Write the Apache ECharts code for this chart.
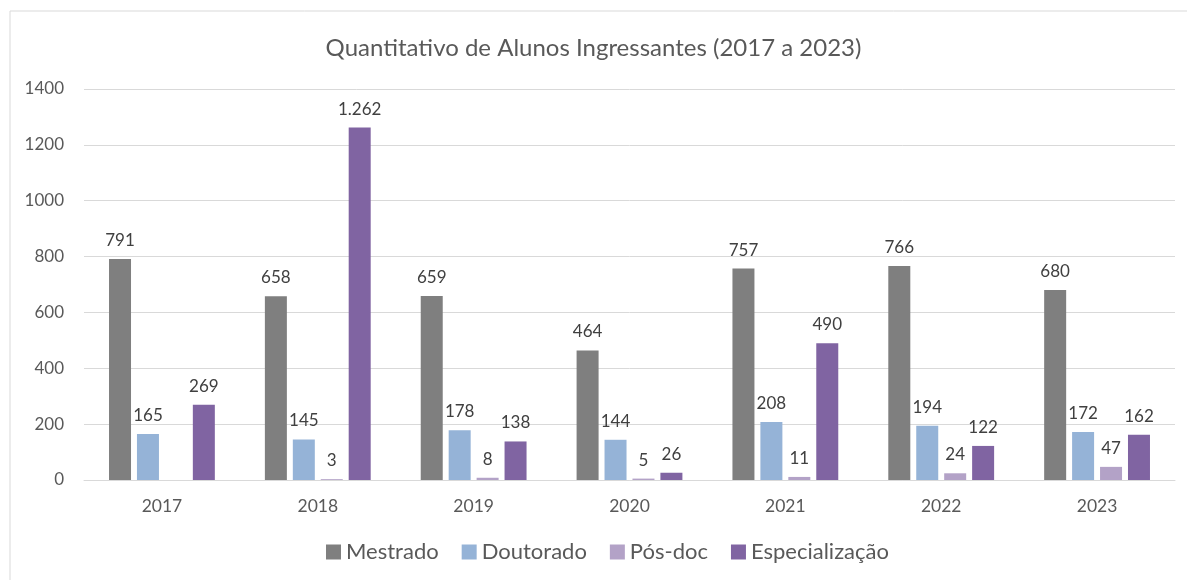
<!DOCTYPE html>
<html><head><meta charset="utf-8">
<script src="https://cdn.jsdelivr.net/npm/echarts@6/dist/echarts.min.js"></script>
<style>html,body{margin:0;padding:0;background:#fff}#c{width:1187px;height:580px}</style>
</head><body><div id="c"></div>
<script>
const categories = ['2017','2018','2019','2020','2021','2022','2023'];
const mestrado = [791, 658, 659, 464, 757, 766, 680];
const doutorado = [165, 145, 178, 144, 208, 194, 172];
const posdoc = ['-', 3, 8, 5, 11, 24, 47];
const especializacao = [269, 1262, 138, 26, 490, 122, 162];
const yTicks = [0, 200, 400, 600, 800, 1000, 1200, 1400];

const FONT = 'Lato, "Noto Sans", sans-serif';
const labelCfg = {
  show: true, position: 'top', distance: 10, color: '#404040', fontSize: 17, fontFamily: FONT,
  formatter: p => p.value >= 1000 ? (Math.floor(p.value/1000) + '.' + String(p.value%1000).padStart(3,'0')) : String(p.value)
};
function mk(name, data, color) {
  return { name, type: 'bar', data, barWidth: 22, barGap: '27%', itemStyle: { color }, label: labelCfg };
}
const chart = echarts.init(document.getElementById('c'));
chart.setOption({
  animation: false,
  backgroundColor: '#fff',
  title: { text: 'Quantitativo de Alunos Ingressantes (2017 a 2023)', left: 'center', top: 31,
    textStyle: { fontFamily: FONT, fontSize: 24, fontWeight: 'normal', color: '#595959' } },
  legend: { bottom: 12, left: 321, itemWidth: 15, itemHeight: 15, itemGap: 23, icon: 'rect',
    textStyle: { fontFamily: FONT, fontSize: 22, color: '#595959' },
    data: ['Mestrado','Doutorado','Pós-doc','Especialização'] },
  graphic: [{ type: 'rect', shape: { x: 10, y: 11, width: 1190, height: 600 }, style: { fill: 'none', stroke: '#d9d9d9', lineWidth: 1 }, silent: true }],
  grid: { left: 84, right: 12, top: 89, bottom: 100 },
  xAxis: { type: 'category', data: categories,
    axisLine: { lineStyle: { color: '#d9d9d9' } }, axisTick: { show: false },
    axisLabel: { fontFamily: FONT, fontSize: 17.5, color: '#595959', margin: 17 } },
  yAxis: { type: 'value', min: yTicks[0], max: yTicks[yTicks.length-1], interval: 200,
    axisLine: { show: false }, axisTick: { show: false },
    splitLine: { lineStyle: { color: '#d9d9d9' } },
    axisLabel: { fontFamily: FONT, fontSize: 17, color: '#595959', margin: 20, formatter: v => String(v) } },
  series: [
    mk('Mestrado', mestrado, '#7f7f7f'),
    mk('Doutorado', doutorado, '#95b3d7'),
    mk('Pós-doc', posdoc, '#b3a2c7'),
    mk('Especialização', especializacao, '#8064a2')
  ]
});
</script></body></html>
